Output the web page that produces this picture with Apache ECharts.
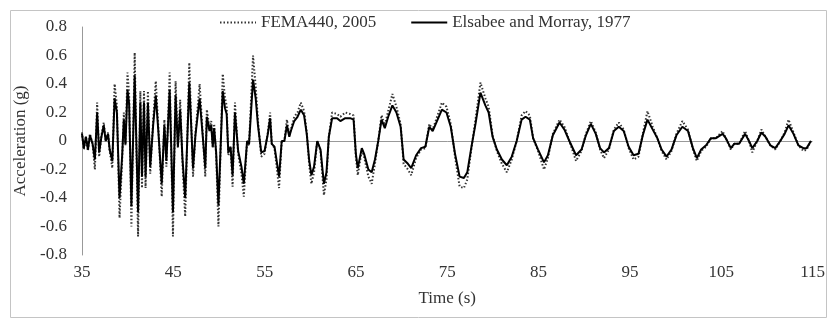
<!DOCTYPE html>
<html lang="en">
<head>
    <meta charset="utf-8">
    <title>Acceleration time history</title>
    <script src="https://cdn.jsdelivr.net/npm/echarts@6/dist/echarts.min.js"></script>
    <style>
        html, body { margin: 0; padding: 0; background: #fff; }
        #main { width: 828px; height: 320px; }
    </style>
</head>
<body>
<div id="main"></div>
<script>
    // time (s)
    var time = [
        35.0, 35.2, 35.43, 35.65, 35.87, 36.16, 36.41, 36.66, 36.88, 37.13,
        37.38, 37.6, 37.85, 38.03, 38.32, 38.57, 38.82, 39.11, 39.4, 39.58,
        39.76, 39.98, 40.16, 40.41, 40.77, 41.14, 41.39, 41.57, 41.79, 41.96,
        42.22, 42.47, 42.79, 43.08, 43.37, 43.73, 44.02, 44.24, 44.6, 44.96,
        45.25, 45.5, 45.75, 46.0, 46.3, 46.75, 47.16, 47.42, 47.88, 48.24,
        48.5, 48.67, 48.96, 49.15, 49.32, 49.47, 49.69, 49.94, 50.41, 50.66,
        50.84, 51.02, 51.27, 51.49, 51.75, 52.1, 52.46, 52.72, 53.08, 53.29,
        53.73, 54.02, 54.27, 54.63, 54.99, 55.35, 55.6, 55.78, 56.08, 56.58,
        56.87, 57.16, 57.44, 57.7, 57.87, 58.24, 58.6, 58.96, 59.32, 59.61,
        59.87, 60.12, 60.41, 60.76, 61.12, 61.49, 61.77, 62.03, 62.39, 62.93,
        63.29, 63.83, 64.37, 64.74, 64.99, 65.2, 65.64, 65.89, 66.36, 66.72,
        67.08, 67.44, 67.8, 68.16, 68.53, 68.99, 69.43, 69.89, 70.22, 70.69,
        71.05, 71.59, 72.13, 72.6, 73.03, 73.4, 73.94, 74.41, 74.91, 75.38,
        75.85, 76.35, 76.82, 77.19, 77.65, 78.09, 78.63, 79.17, 79.53, 79.96,
        80.43, 80.98, 81.52, 82.06, 82.6, 83.14, 83.57, 84.04, 84.4, 84.94,
        85.59, 86.02, 86.56, 87.29, 87.83, 88.37, 89.1, 89.7, 90.18, 90.72,
        91.26, 91.73, 92.16, 92.7, 93.24, 93.78, 94.32, 94.86, 95.4, 95.94,
        96.41, 96.92, 97.5, 98.0, 98.47, 99.01, 99.55, 100.09, 100.74, 101.36,
        101.9, 102.33, 102.8, 103.34, 103.88, 104.42, 105.15, 105.5, 106.05, 106.42,
        106.96, 107.61, 108.04, 108.4, 108.94, 109.4, 109.84, 110.38, 110.92, 111.46,
        111.94, 112.37, 112.91, 113.45, 113.99, 114.35, 114.82
    ];

    // FEMA440, 2005 (dotted)
    var fema = [
        0.06, -0.06, 0.03, -0.07, 0.05, -0.02, -0.2, 0.27, -0.11, 0.04,
        0.13, 0.0, 0.06, -0.07, -0.19, 0.4, 0.25, -0.54, -0.13, 0.2,
        -0.03, 0.48, 0.33, -0.6, 0.62, -0.67, 0.35, -0.33, 0.35, -0.33,
        0.35, -0.23, 0.14, 0.42, 0.08, -0.39, 0.15, -0.18, 0.48, -0.67,
        0.42, -0.05, 0.29, -0.15, -0.53, 0.55, -0.25, 0.05, 0.4, 0.03,
        -0.25, 0.22, 0.09, 0.14, -0.05, 0.12, -0.1, -0.6, 0.47, 0.3,
        0.25, -0.1, -0.05, -0.32, 0.27, -0.09, -0.23, -0.39, 0.0, -0.03,
        0.6, 0.38, 0.14, -0.11, -0.09, 0.06, 0.2, -0.02, -0.05, -0.33,
        0.0, 0.0, 0.15, 0.04, 0.08, 0.17, 0.2, 0.27, 0.21, 0.06,
        -0.16, -0.3, -0.22, 0.0, -0.07, -0.38, -0.27, 0.03, 0.2, 0.19,
        0.17, 0.2, 0.19, 0.18, -0.11, -0.24, -0.06, -0.11, -0.25, -0.3,
        -0.16, 0.0, 0.18, 0.11, 0.21, 0.33, 0.24, 0.12, -0.16, -0.2,
        -0.24, -0.12, -0.06, -0.05, 0.12, 0.08, 0.18, 0.27, 0.24, 0.12,
        -0.11, -0.32, -0.33, -0.27, -0.05, 0.15, 0.41, 0.3, 0.24, 0.04,
        -0.07, -0.16, -0.22, -0.13, 0.0, 0.18, 0.21, 0.18, 0.02, -0.07,
        -0.2, -0.12, 0.05, 0.15, 0.1, 0.0, -0.14, -0.07, 0.05, 0.14,
        0.06, -0.06, -0.12, -0.06, 0.08, 0.13, 0.08, -0.05, -0.13, -0.11,
        0.05, 0.21, 0.1, 0.02, -0.07, -0.13, -0.07, 0.05, 0.14, 0.08,
        -0.06, -0.14, -0.07, -0.04, 0.02, 0.02, 0.07, 0.02, -0.06, -0.02,
        -0.02, 0.07, 0.0, -0.08, 0.0, 0.08, 0.03, -0.03, -0.06, 0.0,
        0.06, 0.15, 0.06, -0.03, -0.07, -0.06, 0.0
    ];

    // Elsabee and Morray, 1977 (solid)
    var elsabee = [
        0.05, -0.05, 0.03, -0.06, 0.04, -0.02, -0.13, 0.2, -0.08, 0.03,
        0.11, 0.0, 0.05, -0.06, -0.14, 0.3, 0.2, -0.4, -0.1, 0.15,
        -0.02, 0.36, 0.26, -0.46, 0.46, -0.5, 0.27, -0.25, 0.27, -0.25,
        0.27, -0.18, 0.11, 0.32, 0.06, -0.3, 0.11, -0.14, 0.36, -0.5,
        0.32, -0.04, 0.22, -0.12, -0.4, 0.41, -0.19, 0.04, 0.3, 0.02,
        -0.19, 0.17, 0.07, 0.11, -0.04, 0.09, -0.08, -0.45, 0.35, 0.23,
        0.19, -0.08, -0.04, -0.24, 0.2, -0.07, -0.18, -0.3, 0.0, -0.02,
        0.43, 0.3, 0.11, -0.08, -0.07, 0.05, 0.16, -0.02, -0.04, -0.25,
        0.0, 0.0, 0.11, 0.03, 0.07, 0.14, 0.17, 0.22, 0.18, 0.05,
        -0.13, -0.24, -0.18, 0.0, -0.06, -0.3, -0.22, 0.03, 0.16, 0.16,
        0.14, 0.16, 0.16, 0.15, -0.09, -0.19, -0.05, -0.09, -0.2, -0.22,
        -0.13, 0.0, 0.15, 0.09, 0.17, 0.25, 0.2, 0.1, -0.13, -0.16,
        -0.19, -0.1, -0.05, -0.04, 0.1, 0.07, 0.15, 0.22, 0.2, 0.1,
        -0.09, -0.25, -0.26, -0.22, -0.04, 0.12, 0.34, 0.25, 0.2, 0.03,
        -0.06, -0.13, -0.17, -0.11, 0.0, 0.15, 0.17, 0.15, 0.02, -0.06,
        -0.15, -0.1, 0.04, 0.13, 0.08, 0.0, -0.1, -0.06, 0.04, 0.12,
        0.05, -0.05, -0.08, -0.05, 0.07, 0.1, 0.07, -0.04, -0.1, -0.09,
        0.04, 0.15, 0.08, 0.02, -0.06, -0.11, -0.06, 0.04, 0.1, 0.07,
        -0.05, -0.12, -0.06, -0.03, 0.02, 0.02, 0.05, 0.02, -0.05, -0.02,
        -0.02, 0.05, 0.0, -0.05, 0.0, 0.06, 0.03, -0.03, -0.05, 0.0,
        0.05, 0.11, 0.05, -0.03, -0.05, -0.05, 0.0
    ];

    var seriesNames = ['FEMA440, 2005', 'Elsabee and Morray, 1977'];

    function pairs(vals) {
        return time.map(function (t, i) {
            return [t, vals[i]];
        });
    }

    var font = 'Liberation Serif, Times New Roman, serif';
    var myChart = echarts.init(document.getElementById('main'));

    var option = {
        animation: false,
        backgroundColor: '#fff',
        textStyle: { fontFamily: font },
        graphic: [{
            type: 'rect',
            shape: { x: 10.5, y: 10.5, width: 816, height: 307 },
            style: { fill: 'none', stroke: '#c4c4c4', lineWidth: 1 },
            silent: true
        }],
        legend: {
            top: 9,
            left: 214,
            itemGap: 34,
            itemWidth: 36,
            itemHeight: 10,
            itemStyle: { opacity: 0 },   // line only, no marker
            textStyle: { fontFamily: font, fontSize: 17, color: '#333' },
            data: seriesNames
        },
        grid: { left: 82, right: 7, top: 27, bottom: 65 },
        xAxis: {
            type: 'value',
            min: 35,
            max: 115,
            interval: 10,
            name: 'Time (s)',
            nameLocation: 'middle',
            nameGap: 35,
            nameTextStyle: { fontFamily: font, fontSize: 17, color: '#333' },
            axisLine: { show: false, onZero: false },
            axisTick: { show: false },
            splitLine: { show: false },
            axisLabel: { fontFamily: font, fontSize: 17, color: '#333', margin: 9 }
        },
        yAxis: {
            type: 'value',
            min: -0.8,
            max: 0.8,
            interval: 0.2,
            name: 'Acceleration (g)',
            nameLocation: 'middle',
            nameGap: 48,
            nameTextStyle: { fontFamily: font, fontSize: 17, color: '#333' },
            axisLine: { show: true, lineStyle: { color: '#999', width: 1 } },
            axisTick: { show: false },
            // only the line at zero is visible
            splitLine: {
                show: true,
                lineStyle: {
                    color: ['transparent', 'transparent', 'transparent', 'transparent', '#999',
                        'transparent', 'transparent', 'transparent', 'transparent'],
                    width: 1
                }
            },
            axisLabel: {
                fontFamily: font, fontSize: 17, color: '#333', margin: 15,
                formatter: function (v) {
                    return Math.abs(v) < 1e-9 ? '0' : v.toFixed(1);
                }
            }
        },
        series: [
            {
                name: seriesNames[0],
                type: 'line',
                symbol: 'none',
                data: pairs(fema),
                lineStyle: { color: '#333', width: 2, type: [1.5, 2] },
                itemStyle: { color: '#333' }
            },
            {
                name: seriesNames[1],
                type: 'line',
                symbol: 'none',
                data: pairs(elsabee),
                lineStyle: { color: '#000', width: 2, type: 'solid' },
                itemStyle: { color: '#000' }
            }
        ]
    };
    myChart.setOption(option);
</script>
</body>
</html>
